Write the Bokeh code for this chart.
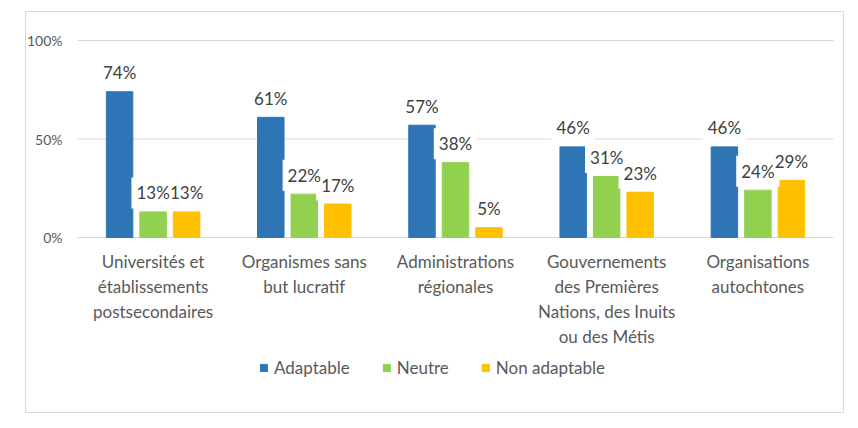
from bokeh.plotting import figure
from bokeh.models import Range1d, ColumnDataSource, Legend, LegendItem
from bokeh.core.properties import value
from bokeh.transform import dodge
from bokeh.embed import file_html
from bokeh.resources import INLINE

categories = [
    "Universités et\nétablissements\npostsecondaires",
    "Organismes sans\nbut lucratif",
    "Administrations\nrégionales",
    "Gouvernements\ndes Premières\nNations, des Inuits\nou des Métis",
    "Organisations\nautochtones",
]
series = ["Adaptable", "Neutre", "Non adaptable"]
adaptable = [74, 61, 57, 46, 46]
neutre = [13, 22, 38, 31, 24]
non_adaptable = [13, 17, 5, 23, 29]
y_ticks = [0, 50, 100]
y_tick_labels = ["0%", "50%", "100%"]

colors = ["#2E75B6", "#92D050", "#FFC000"]
FONT = value("Lato")

n = len(categories)
idx = list(range(n))
data = {"x": idx, "cat": categories}
for name, vals in zip(["a", "n", "na"], [adaptable, neutre, non_adaptable]):
    data[name] = vals
    data[name + "_t"] = [f"{v}%" for v in vals]
src = ColumnDataSource(data)

p = figure(width=850, height=420, output_backend="svg", toolbar_location=None,
           x_axis_type=None, y_axis_type=None,
           x_range=Range1d(-0.8439, 4.5662), y_range=Range1d(-88.83, 114.72),
           min_border_left=25, min_border_right=7, min_border_top=11, min_border_bottom=8,
           outline_line_color="#D9D9D9", outline_line_width=1)
p.grid.visible = False
p.background_fill_color = "white"
p.border_fill_color = "white"

# gridlines
p.segment(x0=[-0.5] * len(y_ticks), x1=[n - 0.5] * len(y_ticks), y0=y_ticks, y1=y_ticks,
          line_color="#D9D9D9", line_width=1)
# y tick labels
p.text(x=[-0.5] * len(y_ticks), y=y_ticks, text=y_tick_labels, x_offset=-15,
       text_align="right", text_baseline="middle", text_font=FONT,
       text_font_size="14px", text_color="#595959")

offsets = [-0.2216, 0.0, 0.2216]
cols = ["a", "n", "na"]
renderers = []
for c, off, col in zip(cols, offsets, colors):
    r = p.vbar(x=dodge("x", off), top=c, width=0.175, bottom=0, source=src,
               fill_color=col, line_color=col)
    renderers.append(r)

# label backgrounds, then labels
for c, off in zip(cols, offsets):
    p.text(x=dodge("x", off), y=c, text=c + "_t", source=src, y_offset=-19,
           text_align="center", text_baseline="alphabetic", text_font=FONT,
           text_font_size="17px", text_alpha=0,
           background_fill_color="white", padding=5)
for c, off in zip(cols, offsets):
    p.text(x=dodge("x", off), y=c, text=c + "_t", source=src, y_offset=-19,
           text_align="center", text_baseline="alphabetic", text_font=FONT,
           text_font_size="17px", text_color="#404040")

# category labels
p.text(x="x", y=0, text="cat", source=src, y_offset=13, text_align="center",
       text_baseline="top", text_font=FONT, text_font_size="17px",
       text_color="#595959", text_line_height=1.2)

legend = Legend(items=[LegendItem(label=s, renderers=[r]) for s, r in zip(series, renderers)],
                orientation="horizontal", location=(234, 34),
                glyph_width=9, glyph_height=9, label_standoff=6, spacing=32,
                padding=0, margin=0, border_line_color=None, background_fill_alpha=0,
                label_text_font="Lato", label_text_font_size="17px",
                label_text_color="#595959")
p.add_layout(legend, "center")

open("out.html", "w").write(file_html(p, INLINE))
